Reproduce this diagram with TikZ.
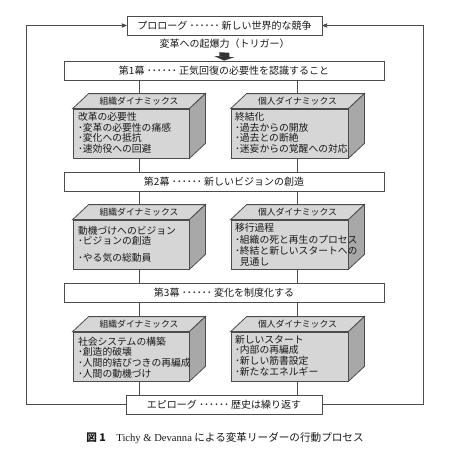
\documentclass[tikz,border=0pt]{standalone}
\usepackage{fontspec}
\setmainfont{Noto Sans CJK JP}
\newfontfamily\latinserif{Liberation Serif}
\usepackage{tikz}
\usetikzlibrary{arrows,arrows.meta,positioning}

\definecolor{facegray}{gray}{0.84}
\definecolor{sidegray}{gray}{0.66}
\definecolor{linegray}{gray}{0.3}

\begin{document}
\begin{tikzpicture}[x=1pt,y=-1pt,>=stealth',line width=0.8pt,draw=linegray,
      every node/.style={font=\fontsize{10}{10.7}\selectfont,text=black!90},
      stage/.style={draw=linegray,fill=white,minimum width=320pt,minimum height=19pt,inner sep=0pt},
      front/.style={draw=linegray,fill=facegray,minimum width=116pt,minimum height=49pt,inner sep=0pt},
      head/.style={minimum width=116pt,minimum height=15pt,inner sep=0pt,font=\fontsize{8.8}{10}\selectfont},
      body/.style={anchor=north west,align=left,inner sep=0pt,font=\fontsize{9.8}{10.6}\selectfont}]

      \useasboundingbox (0,0) rectangle (454,448);

      \node[stage,minimum width=195pt] (prologue) at (224.5,25.5) 	{プロローグ ･･････ 新しい世界的な競争};
      \node (trigger) at (224.5,44) 		{変革への起爆力（トリガー）};

      \node[stage] (act1) at (224,70.5) 		{第1幕 ･･････ 正気回復の必要性を認識すること};
      \node[stage] (act2) at (224,181.5) 		{第2幕 ･･････ 新しいビジョンの創造};
      \node[stage] (act3) at (224,293) 		{第3幕 ･･････ 変化を制度化する};
      \node[stage,minimum width=196pt] (epilogue) at (224,404.5) 	{エピローグ ･･････ 歴史は繰り返す};

      \node[front] (org1) at (131,133.5) {};
      \node[front,minimum width=117pt] (ind1) at (289.5,133.5) {};
      \node[front] (org2) at (131,244.5) {};
      \node[front,minimum width=117pt] (ind2) at (289.5,244.5) {};
      \node[front] (org3) at (131,356.5) {};
      \node[front,minimum width=117pt] (ind3) at (289.5,356.5) {};

      % top and side of each block
      \foreach \blk in {org1,ind1,org2,ind2,org3,ind3}{
	\filldraw[fill=facegray] (\blk.north west) -- ++(16,-15) -- ([shift={(16,-15)}]\blk.north east) -- (\blk.north east) -- cycle;
	\filldraw[fill=sidegray] (\blk.north east) -- ++(16,-15) -- ([shift={(16,-15)}]\blk.south east) -- (\blk.south east) -- cycle;
      }

      \foreach \blk in {1,2,3}{
	\node[head] (orghead\blk) at ([shift={(8,-7.5)}]org\blk.north) {組織ダイナミックス};
	\node[head] (indhead\blk) at ([shift={(8,-7.5)}]ind\blk.north) {個人ダイナミックス};
      }

      \node[body] (orgtext1) at ([shift={(5,3.5)}]org1.north west) {改革の必要性\\･変革の必要性の痛感\\･変化への抵抗\\･速効役への回避};
      \node[body] (indtext1) at ([shift={(4,3.5)}]ind1.north west) {終結化\\･過去からの開放\\･過去との断絶\\･迷妄からの覚醒への対応};
      \node[body] (orgtext2) at ([shift={(5,6)}]org2.north west) {動機づけへのビジョン\\･ビジョンの創造\\[6pt]･やる気の総動員};
      \node[body] (indtext2) at ([shift={(4,3.5)}]ind2.north west) {移行過程\\[1.5pt]･組織の死と再生のプロセス\\･終結と新しいスタートへの\\\phantom{･}見通し};
      \node[body] (orgtext3) at ([shift={(5,5)}]org3.north west) {社会システムの構築\\･創造的破壊\\･人間的結びつきの再編成\\･人間の動機づけ};
      \node[body] (indtext3) at ([shift={(4,3)}]ind3.north west) {新しいスタート\\･内部の再編成\\･新しい筋書設定\\･新たなエネルギー};

      \node[font=\fontsize{10.6}{12}\selectfont] (caption) at (225,438) {{\bfseries 図 1}\quad{\latinserif Tichy \& Devanna} による変革リーダーの行動プロセス};

      \draw[draw=black!80,line width=10pt,-{Triangle[width=20pt,length=4pt]}] (trigger.south) -- (act1.north);

      \foreach \from/\to/\col in {act1/orghead1/orghead1,act1/indhead1/indhead1,org1/act2/orghead1,ind1/act2/indhead1,
	  act2/orghead2/orghead2,act2/indhead2/indhead2,org2/act3/orghead2,ind2/act3/indhead2,
	  act3/orghead3/orghead3,act3/indhead3/indhead3,org3/epilogue/orghead3,ind3/epilogue/indhead3}
	\draw (\from.south -| \col) -- (\to.north -| \col);

      \coordinate (loopL) at (26,0);
      \coordinate (loopR) at (423,0);
      \draw[->] (epilogue.west) -- (epilogue.west -| loopL) -- (prologue.west -| loopL) -- (prologue.west);
      \draw[->] (epilogue.east) -- (epilogue.east -| loopR) -- (prologue.east -| loopR) -- (prologue.east);

\end{tikzpicture}
\end{document}
